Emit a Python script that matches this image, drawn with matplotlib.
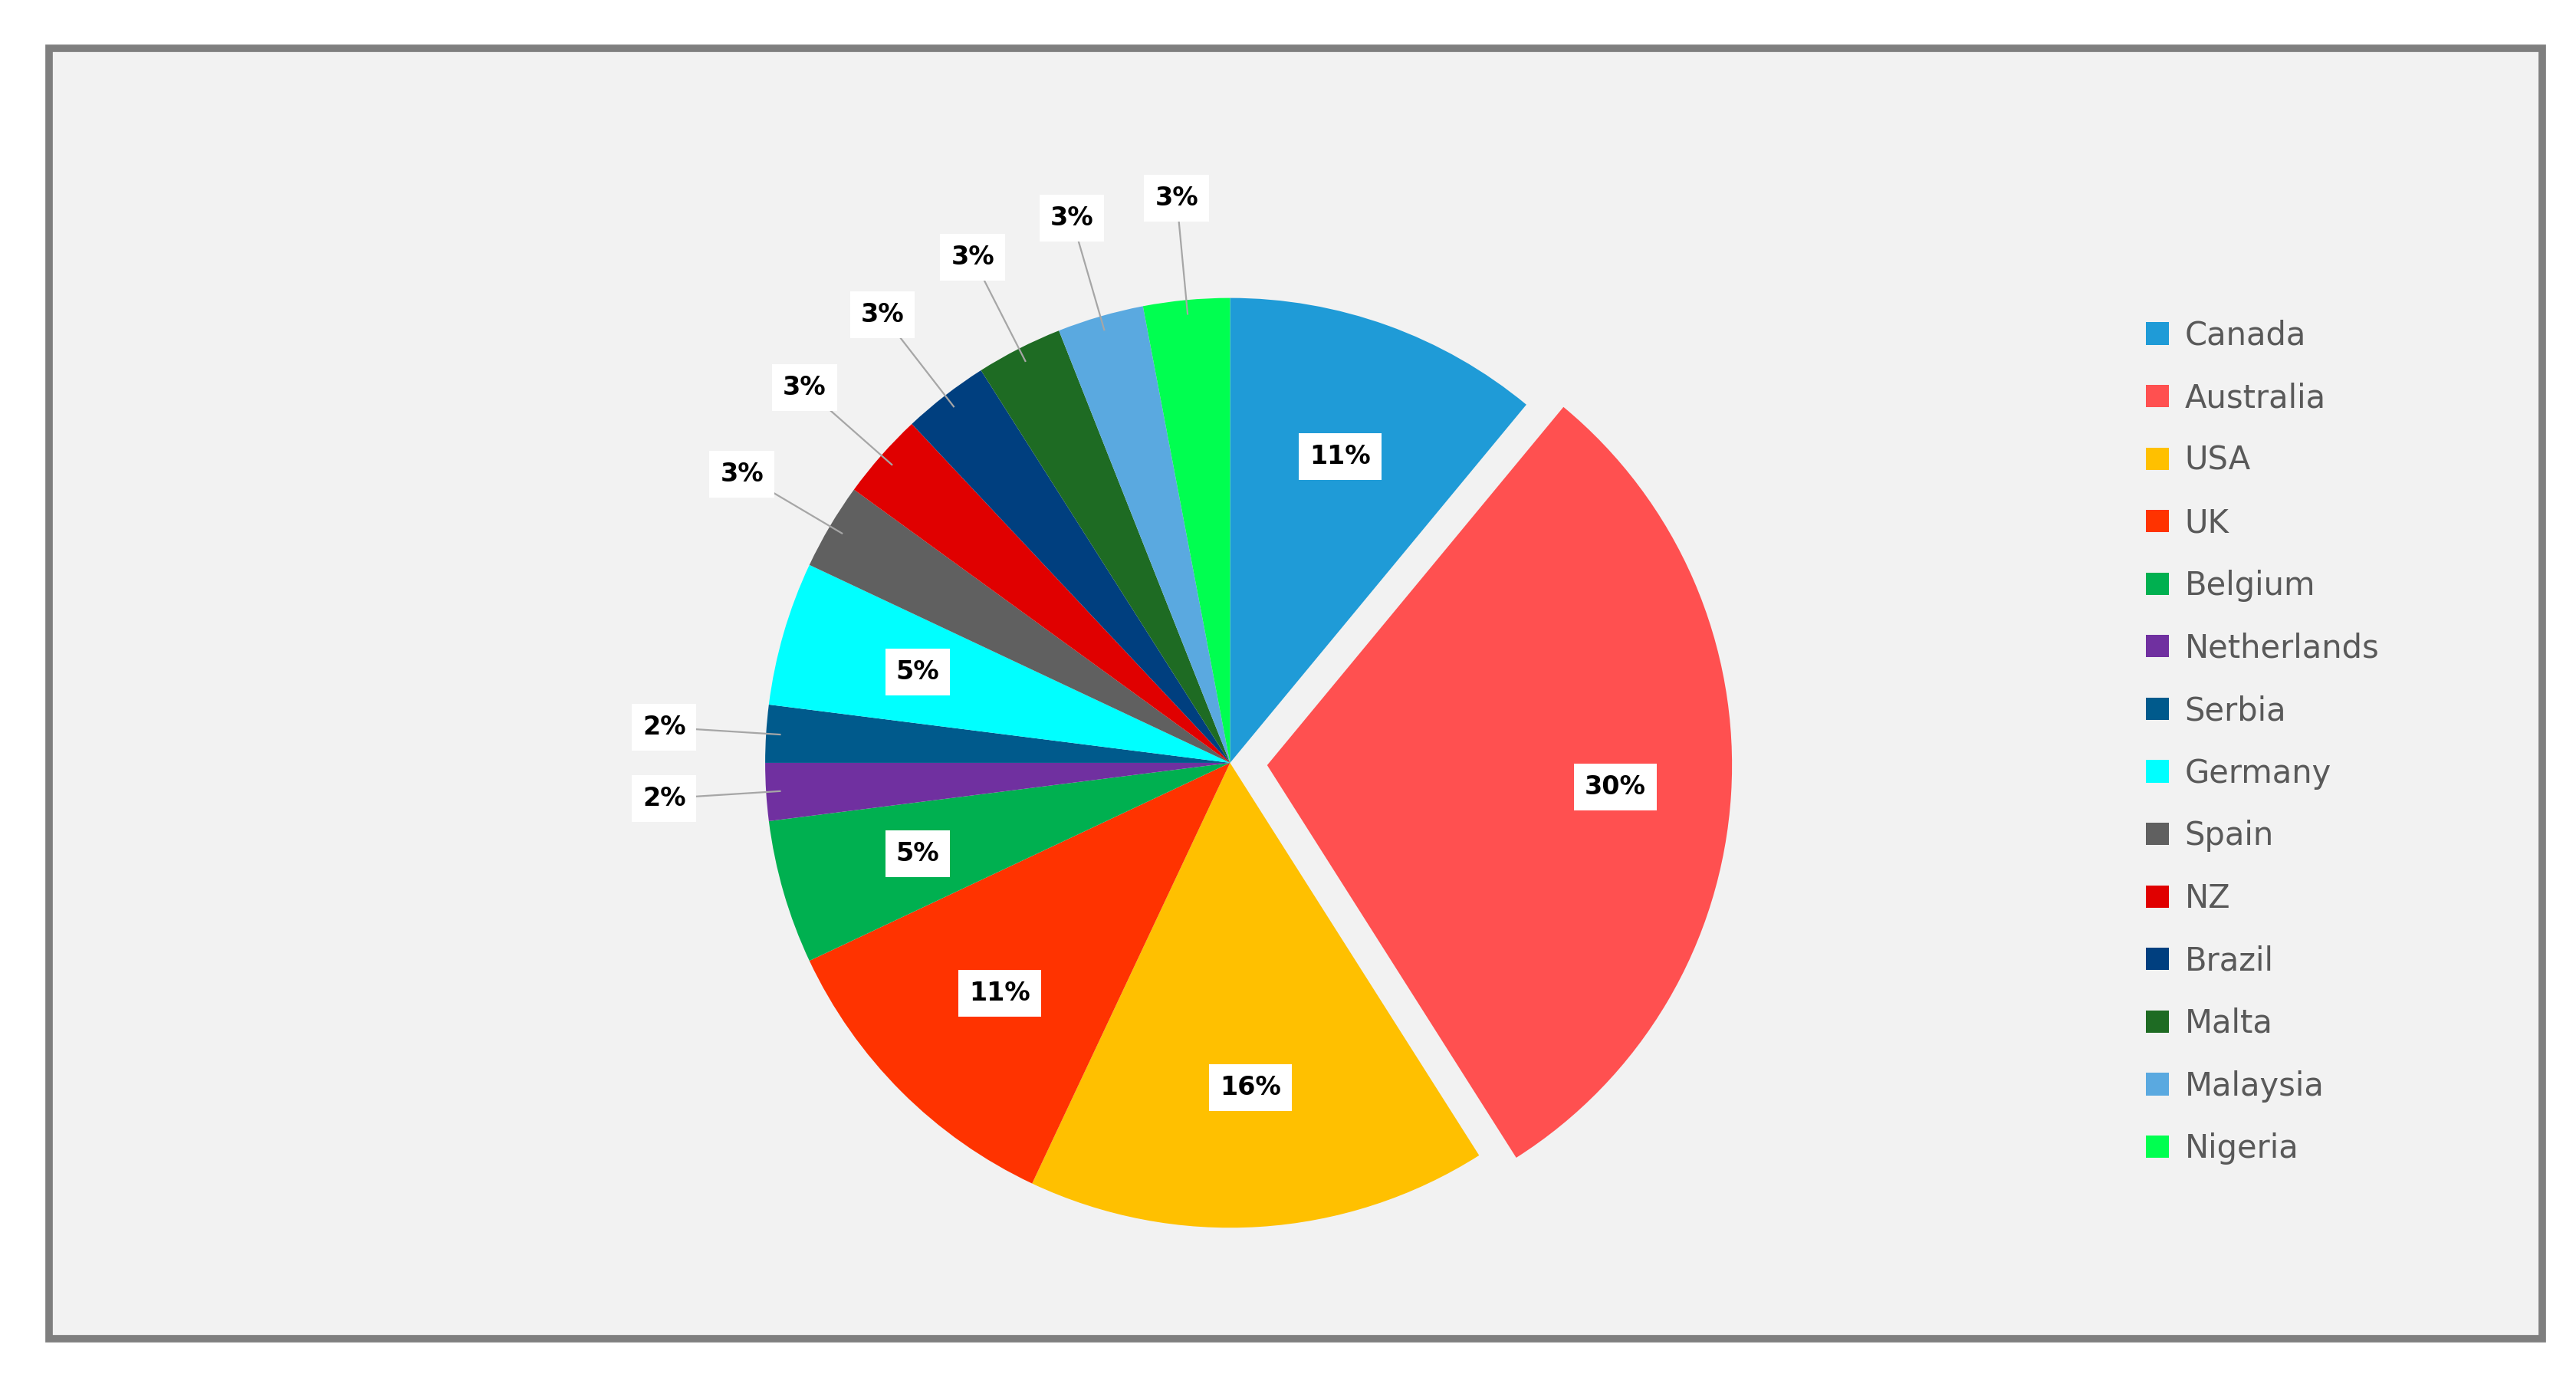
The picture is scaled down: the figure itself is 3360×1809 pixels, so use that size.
import numpy as np
import matplotlib.pyplot as plt
from matplotlib.patches import Rectangle

countries = ['Canada', 'Australia', 'USA', 'UK', 'Belgium', 'Netherlands', 'Serbia',
             'Germany', 'Spain', 'NZ', 'Brazil', 'Malta', 'Malaysia', 'Nigeria']
shares = [11, 30, 16, 11, 5, 2, 2, 5, 3, 3, 3, 3, 3, 3]
colors = ['#1f9bd7', '#ff5050', '#ffc000', '#ff3300', '#00b050', '#7030a0', '#005a8c',
          '#00ffff', '#606060', '#e00000', '#003f7f', '#1e6b23', '#5aa9e0', '#00ff50']
explode = [0, 0.08, 0, 0, 0, 0, 0, 0, 0, 0, 0, 0, 0, 0]

fig = plt.figure(figsize=(16.8, 9.045), dpi=200)
fig.patch.set_facecolor('white')
fig.patches.append(Rectangle((0.019, 0.035), 0.968, 0.93, transform=fig.transFigure,
                             facecolor='#f2f2f2', edgecolor='#7f7f7f', linewidth=3.5,
                             zorder=-10))

ax = fig.add_axes([0.279, 0.081, 0.397, 0.738])
ax.set_zorder(1)
wedges, _ = ax.pie(shares, colors=colors, startangle=90, counterclock=False,
                   explode=explode, wedgeprops=dict(linewidth=0))
ax.set_aspect('equal')
ax.set_xlim(-1.1, 1.1)
ax.set_ylim(-1.1, 1.1)

box = dict(facecolor='white', edgecolor='none', pad=5)
for w, v in zip(wedges, shares):
    ang = np.deg2rad((w.theta1 + w.theta2) / 2)
    cx, cy = w.center
    if v >= 5:
        r = 0.7 if v < 30 else 0.75
        ax.text(cx + r * np.cos(ang), cy + r * np.sin(ang), f'{v}%', ha='center', va='center',
                fontsize=12, fontweight='bold', bbox=box)
    else:
        x0, y0 = 0.97 * np.cos(ang), 0.97 * np.sin(ang)
        x1, y1 = 1.22 * np.cos(ang), 1.22 * np.sin(ang)
        ax.plot([x0, x1], [y0, y1], color='#a6a6a6', lw=0.8, clip_on=False)
        ax.text(x1, y1, f'{v}%', ha='center', va='center', fontsize=12,
                fontweight='bold', bbox=box, clip_on=False)

leg = fig.legend(wedges, countries, loc='center left', bbox_to_anchor=(0.822, 0.465),
                 frameon=False, fontsize=15, handlelength=0.7, handleheight=0.7,
                 labelspacing=0.95, handletextpad=0.5)
for t in leg.get_texts():
    t.set_color('#595959')

fig.savefig('out.png', dpi=200)
